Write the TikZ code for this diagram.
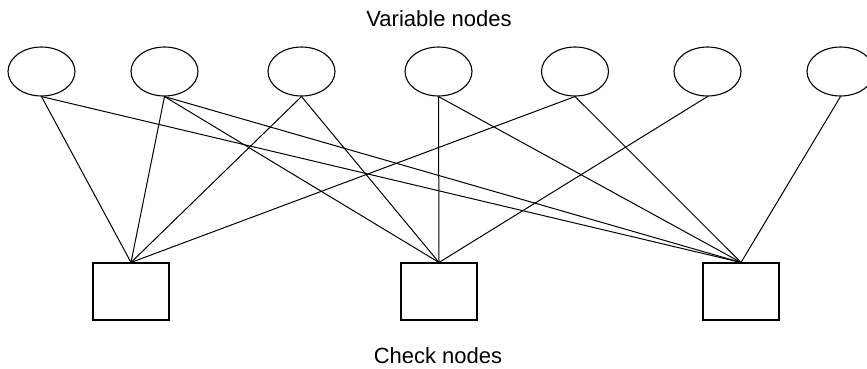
\documentclass[tikz,border=0pt]{standalone}
\usepackage{fontspec}
\setmainfont{Liberation Sans}
\usepackage{tikz}
\usetikzlibrary{shapes,positioning}

\tikzset{
  var/.style={ellipse, draw, line width=1.1pt, minimum width=67pt, minimum height=49pt, inner sep=0pt},
  chk/.style={rectangle, draw, line width=1.1pt, minimum width=76pt, minimum height=57pt, inner sep=0pt},
  caption/.style={anchor=base, font=\fontsize{22}{26}\selectfont}
}

\begin{document}
\begin{tikzpicture}[x=1pt,y=-1pt,line width=1pt]
\useasboundingbox (0,0) rectangle (867,368);
\node[caption] (vtitle) at (439,26) {Variable nodes};
\node[caption] (ctitle) at (438,363) {Check nodes};
\node[var] (v1) at (41.5,71.5){};
\node[var] (v2) at (164.5,71.5){};
\node[var] (v3) at (301.5,71.5){};
\node[var] (v4) at (438.5,71.5){};
\node[var] (v5) at (575,71.5){};
\node[var] (v6) at (707.5,71.5){};
\node[var] (v7) at (840.5,71.5){};
\node[chk] (c1) at (131,291.5){};
\node[chk] (c2) at (439,291.5){};
\node[chk] (c3) at (741,291.5){};
\foreach \v/\c in {1/1,1/3,2/1,2/2,2/3,3/1,3/2,4/2,4/3,5/1,5/3,6/2,7/3}
  \draw (v\v.south) -- (c\c.north);
\end{tikzpicture}
\end{document}
